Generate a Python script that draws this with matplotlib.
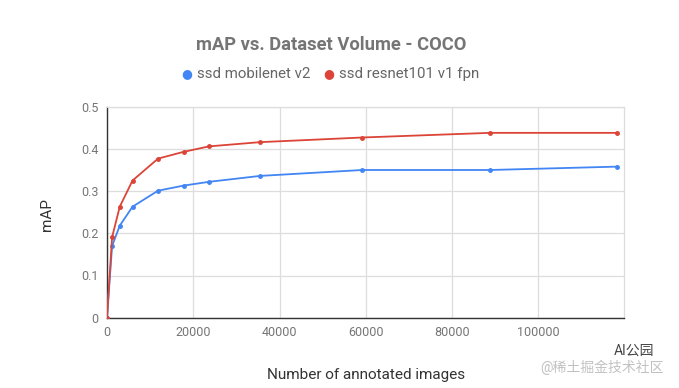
import matplotlib.pyplot as plt

# COCO train2017 size is 118287; points are fractions of it
num_images = [0, 1183, 2957, 5914, 11829, 17743, 23657, 35486, 59144, 88715, 118287]
map_mobilenet = [0.0, 0.170, 0.218, 0.263, 0.301, 0.313, 0.322, 0.336, 0.350, 0.350, 0.358]
map_resnet = [0.0, 0.191, 0.263, 0.325, 0.377, 0.393, 0.406, 0.416, 0.427, 0.438, 0.438]

x_ticks = [0, 20000, 40000, 60000, 80000, 100000]
y_ticks = [0, 0.1, 0.2, 0.3, 0.4, 0.5]

blue = '#4285F4'
red = '#DB4437'

plt.rcParams['font.family'] = ['Roboto', 'Noto Sans CJK SC', 'DejaVu Sans']

fig = plt.figure(figsize=(6.79, 3.88), dpi=100)
ax = fig.add_axes([107 / 679, 1 - 317.7 / 388, (624.3 - 107) / 679, (317.7 - 106.7) / 388])

ax.plot(num_images, map_mobilenet, color=blue, lw=1.3, marker='o', ms=2.5, zorder=3)
ax.plot(num_images, map_resnet, color=red, lw=1.3, marker='o', ms=2.5, zorder=3)

ax.set_xlim(0, 119900)
ax.set_ylim(0, 0.5)
ax.set_xticks(x_ticks)
ax.set_xticklabels([str(t) for t in x_ticks])
ax.set_yticks(y_ticks)
ax.set_yticklabels(['0', '0.1', '0.2', '0.3', '0.4', '0.5'])
ax.tick_params(length=0, labelsize=9, labelcolor='#757575', pad=6)
ax.grid(True, color='#dddddd', lw=0.9)
ax.set_axisbelow(True)
for side in ['top', 'right']:
    ax.spines[side].set_color('#dddddd')
    ax.spines[side].set_linewidth(0.9)
for side in ['left', 'bottom']:
    ax.spines[side].set_color('#333333')
    ax.spines[side].set_linewidth(1.0)

fig.text(366 / 679, 1 - 375 / 388, 'Number of annotated images', ha='center', va='center',
         fontsize=11, color='#333333')
fig.text(47 / 679, 1 - 215 / 388, 'mAP', ha='center', va='center', rotation=90,
         fontsize=11, color='#333333')

fig.text(331 / 679, 1 - 45 / 388, 'mAP vs. Dataset Volume - COCO', ha='center', va='center',
         fontsize=13.2, fontweight='bold', color='#757575')

# legend
ly = 1 - 74 / 388
fig.text(187 / 679, ly, '\u25cf', ha='center', va='center', fontsize=9, color=blue,
         family=['DejaVu Sans'])
fig.text(197 / 679, ly, 'ssd mobilenet v2', ha='left', va='center', fontsize=10.8, color='#666666')
fig.text(329 / 679, ly, '\u25cf', ha='center', va='center', fontsize=9, color=red,
         family=['DejaVu Sans'])
fig.text(339 / 679, ly, 'ssd resnet101 v1 fpn', ha='left', va='center', fontsize=10.8, color='#666666')

# watermark
fig.text(614 / 679, 1 - 351 / 388, 'AI公园', ha='left', va='center', fontsize=10, color='#444444')
fig.text(540 / 679, 1 - 367 / 388, '@稀土掘金技术社区', ha='left', va='center', fontsize=10,
         color='#bbbbbb', alpha=0.9)

fig.savefig('out.png', dpi=100)
